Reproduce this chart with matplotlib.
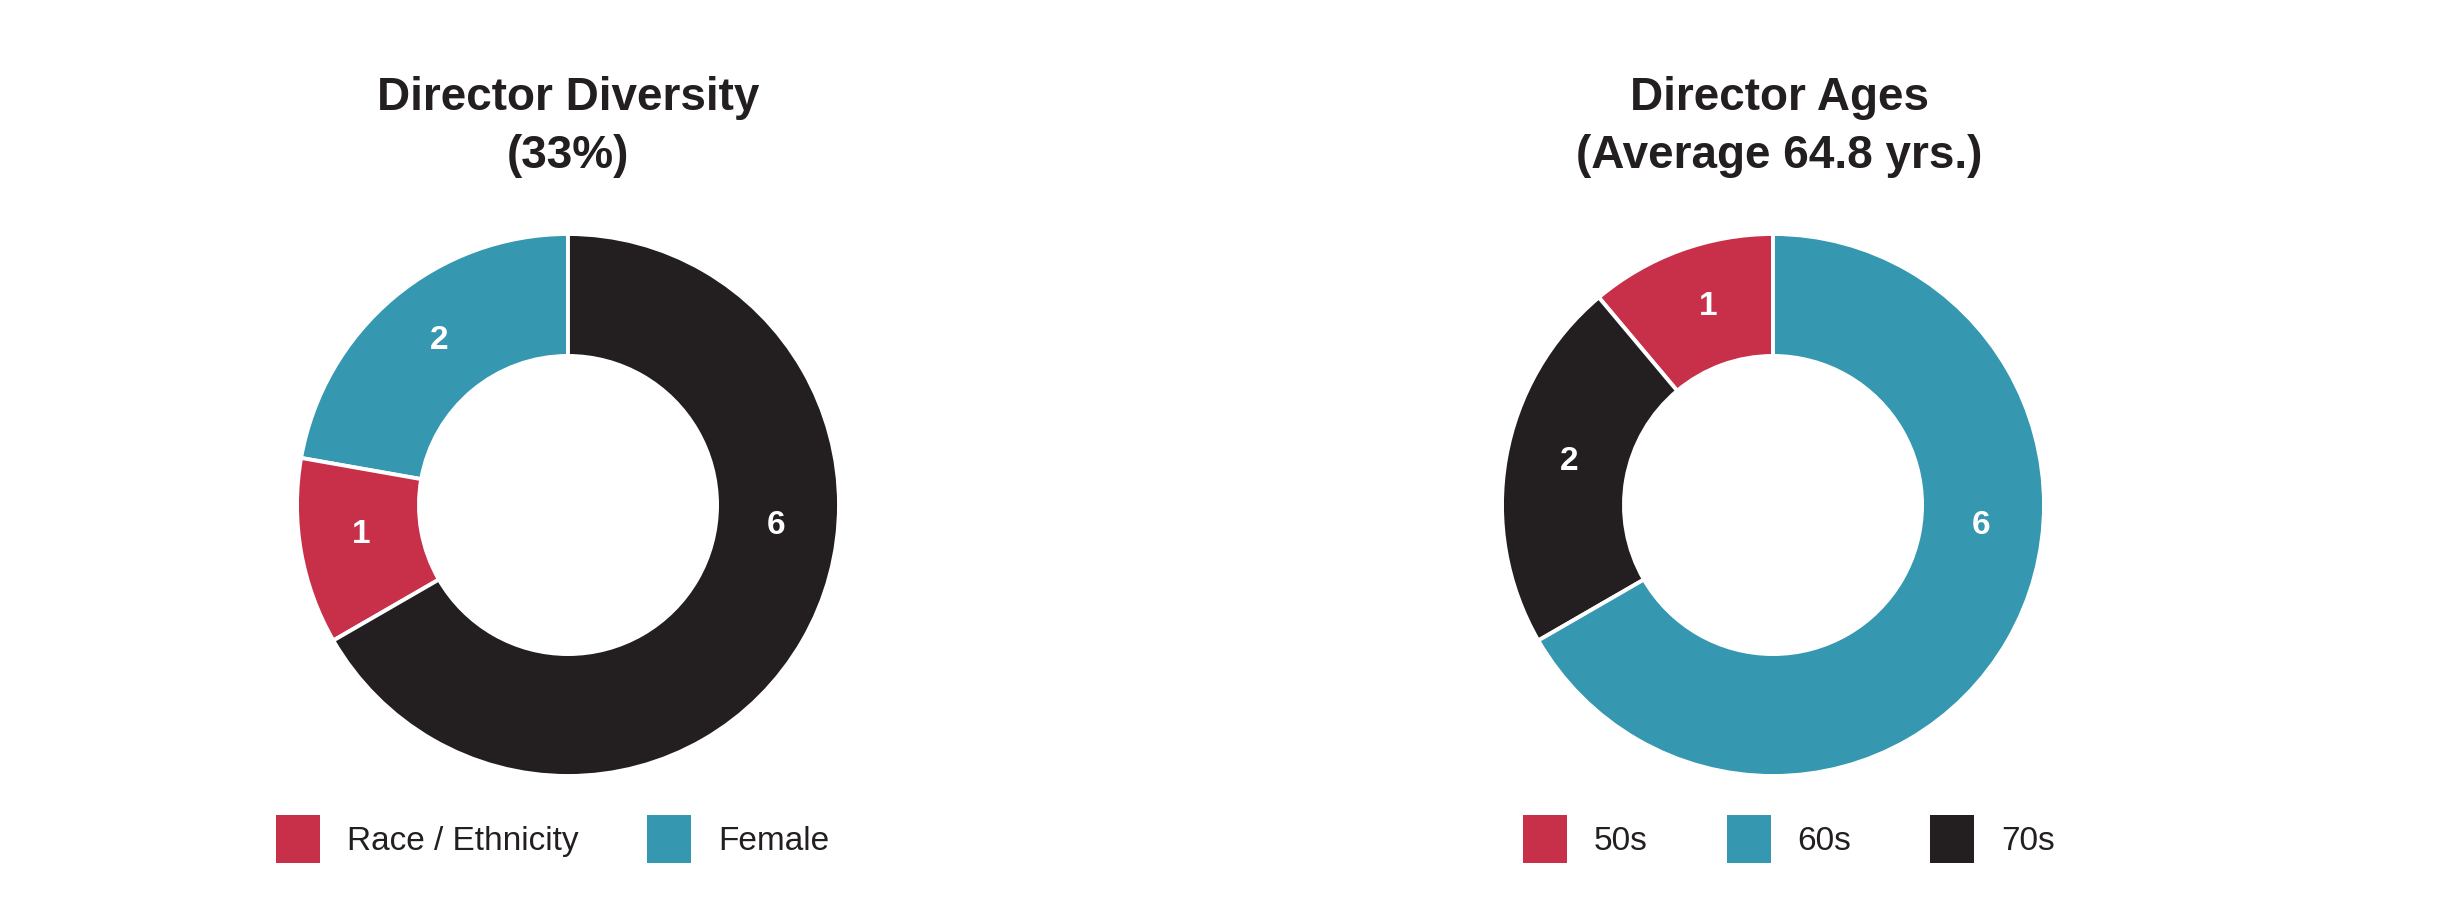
import matplotlib.pyplot as plt
import numpy as np

plt.rcParams['font.family'] = ['Liberation Sans', 'DejaVu Sans']

W, H = 2449, 897
DPI = 100

RED = '#C8304A'
TEAL = '#3597B0'
BLACK = '#231F20'

# Director Diversity
div_labels = ['Female', 'Race / Ethnicity', 'Other']
div_values = [2, 1, 6]
div_colors = [TEAL, RED, BLACK]
div_legend = ['Race / Ethnicity', 'Female']
div_title = 'Director Diversity\n(33%)'

# Director Ages
age_labels = ['50s', '70s', '60s']
age_values = [1, 2, 6]
age_colors = [RED, BLACK, TEAL]
age_legend = ['50s', '60s', '70s']
age_title = 'Director Ages\n(Average 64.8 yrs.)'

color_of = {'Race / Ethnicity': RED, 'Female': TEAL, 'Other': BLACK,
            '50s': RED, '60s': TEAL, '70s': BLACK}


def px_axes(fig, cx, cy, r):
    # axes square around a centre given in pixels from top-left
    return fig.add_axes([(cx - r) / W, (H - cy - r) / H, 2 * r / W, 2 * r / H])


def donut(ax, values, colors):
    wedges, _ = ax.pie(values, colors=colors, startangle=90, counterclock=True,
                       radius=1, wedgeprops=dict(width=0.45, edgecolor='white', linewidth=2.8))
    for w, v in zip(wedges, values):
        ang = (w.theta1 + w.theta2) / 2 - 2
        # the big slice gets its label pushed towards 3 o'clock, like the original
        if w.theta2 - w.theta1 > 180:
            ang = -5.5
        r = 0.77
        ax.text(r * np.cos(np.radians(ang)), r * np.sin(np.radians(ang)), str(v),
                ha='center', va='center', color='white', fontweight='bold', fontsize=24)
    ax.set_xlim(-1, 1)
    ax.set_ylim(-1, 1)
    ax.set_aspect('equal')
    ax.axis('off')


fig = plt.figure(figsize=(W / DPI, H / DPI), dpi=DPI)

ax1 = px_axes(fig, 568, 505, 271)
donut(ax1, div_values, div_colors)
ax2 = px_axes(fig, 1773, 505, 271)
donut(ax2, age_values, age_colors)

fig.text(568 / W, 1 - 127 / H, div_title, ha='center', va='center', fontsize=33,
         fontweight='bold', color=BLACK, linespacing=1.43)
fig.text(1779 / W, 1 - 127 / H, age_title, ha='center', va='center', fontsize=33,
         fontweight='bold', color=BLACK, linespacing=1.43)


def legend(labels, x0, spacing):
    handles = [plt.Rectangle((0, 0), 1, 1, facecolor=color_of[l], edgecolor='none') for l in labels]
    fig.legend(handles, labels, loc='center left', bbox_to_anchor=(x0 / W, 1 - 839 / H),
               ncol=len(labels), frameon=False, fontsize=24, handlelength=1.32,
               handleheight=1.84, handletextpad=0.8, columnspacing=spacing,
               borderpad=0, borderaxespad=0, labelcolor=BLACK)


legend(div_legend, 276, 2.07)
legend(age_legend, 1523, 2.37)

fig.savefig('out.png', dpi=DPI, facecolor='white')
